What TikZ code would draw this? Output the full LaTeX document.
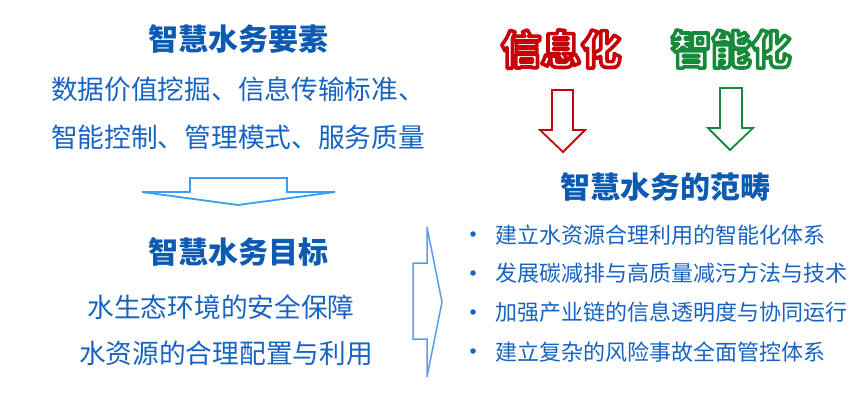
\documentclass[tikz,border=0pt]{standalone}
\usepackage{fontspec}
\setmainfont{Noto Sans CJK SC}
\definecolor{wblue}{HTML}{1763C2}
\definecolor{tblue}{HTML}{0C5AB2}
\definecolor{arblue}{HTML}{3A9DF2}
\definecolor{rblue}{HTML}{5C9CEC}
\definecolor{xred}{HTML}{C8000A}
\definecolor{xgreen}{HTML}{16893A}
% white letters with a coloured rim
\newcommand{\hollowtext}[2]{{\color{white}\special{pdf:literal direct 2 Tr 3.6 w 1 j #1 RG}#2\special{pdf:literal direct 0 Tr}}}

\begin{document}
\begin{tikzpicture}[x=1pt, y=-1pt,
    title/.style = {font=\fontsize{30}{30}\selectfont\bfseries, text=tblue, inner sep=0pt},
    item/.style = {font=\fontsize{26.7}{27}\selectfont, text=wblue, inner sep=0pt},
    point/.style = {font=\fontsize{22}{22}\selectfont, text=wblue, anchor=west, inner sep=0pt},
    dot/.style = {circle, fill=wblue, inner sep=0pt, minimum size=5.5pt},
    hollow/.style = {line width=1.8pt, line join=miter}]
    \useasboundingbox (0,0) rectangle (864,400);

    % elements
    \node[title] (elem) at (238,39) {智慧水务要素};
    \node[item] (elem1) at (238,89) {数据价值挖掘、信息传输标准、};
    \node[item] (elem2) at (238,137) {智能控制、管理模式、服务质量};

    \draw[hollow, arblue] (190,178) -- (287,178) -- (287,192) -- (335,192) -- (238,205)
        -- (142,192) -- (190,192) -- cycle;

    % goals
    \node[title] (goal) at (238,252) {智慧水务目标};
    \node[item] (goal1) at (221,307) {水生态环境的安全保障};
    \node[item] (goal2) at (226,353) {水资源的合理配置与利用};

    \draw[hollow, rblue, line width=1.5pt] (413,263) -- (427,263) -- (427,227) -- (442,302)
        -- (427,377) -- (427,339) -- (413,339) -- cycle;

    % two drivers
    \node[] (info) at (561,49) {\fontsize{40}{40}\selectfont\bfseries\hollowtext{0.784 0 0.039}{信息化}};
    \node[] (smart) at (731,49) {\fontsize{40}{40}\selectfont\bfseries\hollowtext{0.086 0.537 0.227}{智能化}};

    \draw[hollow, xred] (552,90) -- (573,90) -- (573,130) -- (585,130) -- (563,152)
        -- (540,130) -- (552,130) -- cycle;
    \draw[hollow, xgreen] (720,88) -- (742,88) -- (742,128) -- (753,128) -- (730,150)
        -- (708,128) -- (720,128) -- cycle;

    % scope
    \node[title] (scope) at (665,187) {智慧水务的范畴};

    \node[dot] (d1) at (473,234) {};
    \node[point] (p1) at (495,235) {建立水资源合理利用的智能化体系};
    \node[dot] (d2) at (473,273) {};
    \node[point] (p2) at (495,273) {发展碳减排与高质量减污方法与技术};
    \node[dot] (d3) at (473,312) {};
    \node[point] (p3) at (495,312) {加强产业链的信息透明度与协同运行};
    \node[dot] (d4) at (473,351) {};
    \node[point] (p4) at (495,352) {建立复杂的风险事故全面管控体系};

\end{tikzpicture}
\end{document}
